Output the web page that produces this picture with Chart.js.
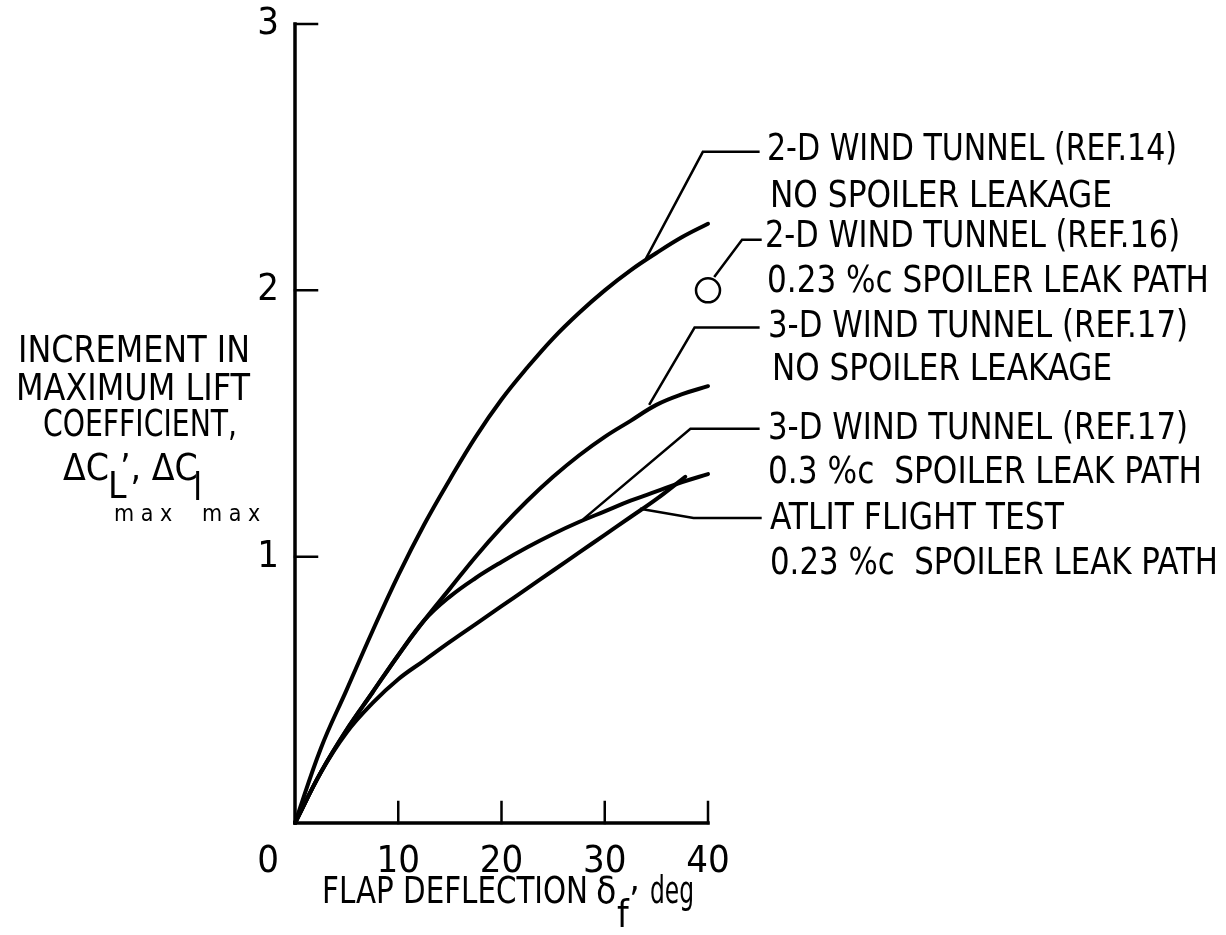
<!DOCTYPE html>
<html>
<head>
    <title>Increment in maximum lift coefficient</title>
    <style>
        body {
            margin: 0;
            background: #ffffff;
        }
        #chart-container {
            width: 1226px;
            height: 935px;
            position: relative;
        }
    </style>
    <script src="https://cdn.jsdelivr.net/npm/chart.js"></script>
</head>
<body>
    <div id="chart-container">
        <canvas id="liftChart"></canvas>
    </div>
    <script>
        // flap deflection, deg
        const flapDeg = [0, 2.5, 5, 7.5, 10, 12.5, 15, 17.5, 20, 22.5, 25, 27.5, 30, 32.5, 35, 37.5, 40];
        const flapDegAtlit = [0, 2.5, 5, 7.5, 10, 12.5, 15, 17.5, 20, 22.5, 25, 27.5, 30, 32.5, 35, 37.8];

        // increment in max lift coefficient
        const tunnel2dRef14 = [0, 0.28, 0.50, 0.72, 0.93, 1.12, 1.29, 1.45, 1.59, 1.71, 1.82, 1.915, 2.00, 2.075, 2.14, 2.20, 2.25];
        const tunnel3dNoLeak = [0, 0.19, 0.35, 0.49, 0.63, 0.76, 0.88, 1.00, 1.11, 1.21, 1.30, 1.38, 1.45, 1.51, 1.57, 1.61, 1.64];
        const tunnel3dLeak = [0, 0.19, 0.35, 0.49, 0.63, 0.76, 0.85, 0.92, 0.98, 1.035, 1.085, 1.13, 1.17, 1.21, 1.245, 1.28, 1.31];
        const atlitFlight = [0, 0.19, 0.34, 0.45, 0.54, 0.61, 0.68, 0.747, 0.814, 0.881, 0.948, 1.015, 1.082, 1.149, 1.216, 1.30];

        // single point, 2-D wind tunnel (ref. 16)
        const tunnel2dRef16X = [40];
        const tunnel2dRef16Y = [2.0];

        const xTicks = [10, 20, 30, 40];
        const yTicks = [1, 2, 3];

        const FONT = "'Liberation Sans Narrow', 'DejaVu Sans Condensed', sans-serif";

        function toPoints(xs, ys) {
            return xs.map((x, i) => ({ x: x, y: ys[i] }));
        }

        function curve(xs, ys) {
            return {
                data: toPoints(xs, ys),
                showLine: true,
                borderColor: '#000',
                borderWidth: 4,
                pointRadius: 0,
                tension: 0.4,
                borderCapStyle: 'round'
            };
        }

        // leader lines in data units: curve point -> elbow -> end of horizontal
        const leaders = [
            [[34.0, 2.12], [39.5, 2.52], [45.0, 2.52]],
            [[40.6, 2.05], [43.3, 2.19], [45.2, 2.19]],
            [[34.3, 1.57], [38.7, 1.86], [45.0, 1.86]],
            [[27.9, 1.14], [38.3, 1.48], [45.0, 1.48]],
            [[33.4, 1.18], [38.6, 1.145], [45.2, 1.145]]
        ];

        // legend text: [text, left px, middle y px, width px]
        const notes = [
            ['2-D WIND TUNNEL (REF.14)', 767, 150, 410],
            ['NO SPOILER LEAKAGE', 770, 197, 342],
            ['2-D WIND TUNNEL (REF.16)', 765, 237, 415],
            ['0.23 %c SPOILER LEAK PATH', 767, 282, 442],
            ['3-D WIND TUNNEL (REF.17)', 768, 327, 420],
            ['NO SPOILER LEAKAGE', 772, 370, 340],
            ['3-D WIND TUNNEL (REF.17)', 768, 429, 420],
            ['0.3 %c  SPOILER LEAK PATH', 768, 473, 434],
            ['ATLIT FLIGHT TEST', 770, 519, 294],
            ['0.23 %c  SPOILER LEAK PATH', 770, 564, 448]
        ];

        function fitText(ctx, text, x, y, w) {
            const m = ctx.measureText(text).width;
            ctx.save();
            ctx.translate(x, y);
            ctx.scale(w / m, 1);
            ctx.fillText(text, 0, 0);
            ctx.restore();
        }

        const axesPlugin = {
            id: 'axesPlugin',
            afterDraw(chart) {
                const ctx = chart.ctx;
                const xs = chart.scales.x;
                const ys = chart.scales.y;
                const x0 = xs.getPixelForValue(0);
                const y0 = ys.getPixelForValue(0);
                ctx.save();
                ctx.strokeStyle = '#000';
                ctx.fillStyle = '#000';
                ctx.lineCap = 'square';

                // axes
                ctx.lineWidth = 3.5;
                ctx.beginPath();
                ctx.moveTo(x0, ys.getPixelForValue(3));
                ctx.lineTo(x0, y0);
                ctx.lineTo(xs.getPixelForValue(40), y0);
                ctx.stroke();

                // inward ticks
                ctx.lineWidth = 2.5;
                ctx.beginPath();
                xTicks.forEach(v => {
                    const px = xs.getPixelForValue(v);
                    ctx.moveTo(px, y0);
                    ctx.lineTo(px, y0 - 21);
                });
                yTicks.forEach(v => {
                    const py = ys.getPixelForValue(v);
                    ctx.moveTo(x0, py);
                    ctx.lineTo(x0 + 22, py);
                });
                ctx.stroke();

                // tick labels
                ctx.font = '38px ' + FONT;
                ctx.textBaseline = 'middle';
                ctx.textAlign = 'center';
                ctx.fillText('0', x0 - 27, y0 + 39);
                xTicks.forEach(v => {
                    ctx.fillText(String(v), xs.getPixelForValue(v), y0 + 39);
                });
                yTicks.forEach(v => {
                    ctx.fillText(String(v), x0 - 27, ys.getPixelForValue(v));
                });

                // y axis title
                ctx.font = '37px ' + FONT;
                ctx.textAlign = 'left';
                fitText(ctx, 'INCREMENT IN', 18, 352, 232);
                fitText(ctx, 'MAXIMUM LIFT', 16, 390, 234);
                fitText(ctx, 'COEFFICIENT,', 43, 426, 194);
                ctx.fillText('\u0394C', 63, 470);
                ctx.fillText('L', 108, 488);
                ctx.fillText('\u2019, \u0394C', 120, 470);
                ctx.fillText('l', 193, 490);
                ctx.font = '23px ' + FONT;
                ctx.fillText('m a x', 114, 515);
                ctx.fillText('m a x', 202, 515);

                // x axis title
                ctx.font = '37px ' + FONT;
                ctx.textAlign = 'left';
                fitText(ctx, 'FLAP DEFLECTION', 322, 893, 266);
                ctx.fillText('\u03b4', 596, 893);
                ctx.fillText('f', 617, 917);
                ctx.fillText('\u2019', 629, 903);
                fitText(ctx, 'deg', 650, 893, 44);

                // leaders
                ctx.lineWidth = 2.5;
                ctx.lineCap = 'butt';
                leaders.forEach(pts => {
                    ctx.beginPath();
                    pts.forEach((p, i) => {
                        const px = xs.getPixelForValue(p[0]);
                        const py = ys.getPixelForValue(p[1]);
                        if (i === 0) ctx.moveTo(px, py); else ctx.lineTo(px, py);
                    });
                    ctx.stroke();
                });

                // notes
                ctx.font = '37px ' + FONT;
                ctx.textAlign = 'left';
                ctx.textBaseline = 'middle';
                notes.forEach(n => fitText(ctx, n[0], n[1], n[2], n[3]));
                ctx.restore();
            }
        };

        const ctx = document.getElementById('liftChart').getContext('2d');
        new Chart(ctx, {
            type: 'scatter',
            data: {
                datasets: [
                    curve(flapDeg, tunnel2dRef14),
                    curve(flapDeg, tunnel3dNoLeak),
                    curve(flapDeg, tunnel3dLeak),
                    curve(flapDegAtlit, atlitFlight),
                    {
                        data: toPoints(tunnel2dRef16X, tunnel2dRef16Y),
                        pointRadius: 12,
                        pointBackgroundColor: '#fff',
                        pointBorderColor: '#000',
                        pointBorderWidth: 2.5,
                        showLine: false
                    }
                ]
            },
            options: {
                responsive: true,
                maintainAspectRatio: false,
                animation: false,
                layout: {
                    padding: { left: 295, right: 518, top: 24, bottom: 112 }
                },
                clip: false,
                scales: {
                    x: { type: 'linear', min: 0, max: 40, display: false },
                    y: { type: 'linear', min: 0, max: 3, display: false }
                },
                plugins: {
                    legend: { display: false },
                    tooltip: { enabled: false }
                }
            },
            plugins: [axesPlugin]
        });
    </script>
</body>
</html>
